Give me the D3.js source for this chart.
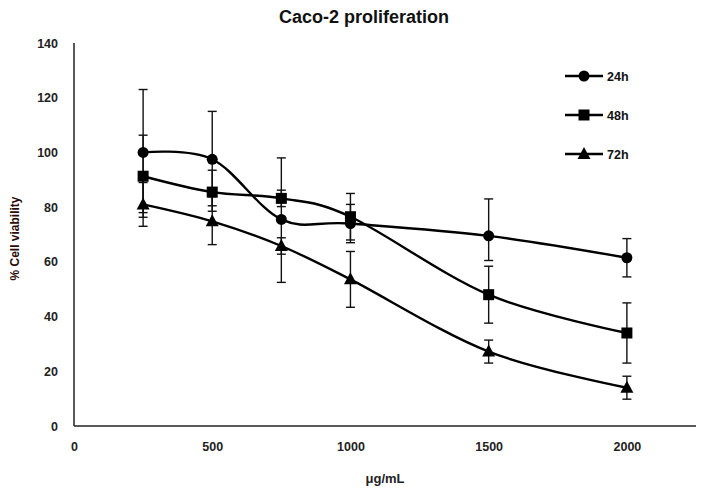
<!DOCTYPE html>
<html>
<head>
<meta charset="utf-8">
<script src="https://cdn.jsdelivr.net/npm/d3@7"></script>
<style>
  body { margin: 0; background: #fff; }
  svg { display: block; }
  text { font-family: "Liberation Sans", Arial, sans-serif; }
</style>
</head>
<body>
<svg id="chart" width="702" height="492"></svg>
<script>
const concentrations = [250, 500, 750, 1000, 1500, 2000];
const seriesNames = ["24h", "48h", "72h"];
const values24 = [100, 97.5, 75.5, 74, 69.5, 61.5];
const errUp24 = [23, 17.5, 22.5, 7, 13.5, 7];
const errDn24 = [22, 17, 23, 7, 9, 7];
const values48 = [91.3, 85.5, 83.2, 76.5, 48, 34];
const errUp48 = [15, 8, 3, 8.5, 10.4, 11];
const errDn48 = [15, 7, 3, 8.5, 10.4, 11];
const values72 = [81, 74.8, 65.8, 53.6, 27.2, 14];
const errUp72 = [8, 9, 3, 10.2, 4.2, 4.2];
const errDn72 = [8, 8.5, 3, 10.2, 4.2, 4.2];
const yTicks = [0, 20, 40, 60, 80, 100, 120, 140];
const xTicks = [0, 500, 1000, 1500, 2000];
const markerTypes = ["circle", "square", "triangle"];

const series = [
  {name: seriesNames[0], vals: values24, up: errUp24, dn: errDn24, marker: markerTypes[0]},
  {name: seriesNames[1], vals: values48, up: errUp48, dn: errDn48, marker: markerTypes[1]},
  {name: seriesNames[2], vals: values72, up: errUp72, dn: errDn72, marker: markerTypes[2]}
];

const svg = d3.select("#chart");
const mLeft = 74, mRight = 696, mTop = 43, mBottom = 426;
const x = d3.scaleLinear().domain([0, 2250]).range([mLeft, mRight]);
const y = d3.scaleLinear().domain([0, 140]).range([mBottom, mTop]);

// title
svg.append("text").attr("x", 364).attr("y", 23).attr("text-anchor", "middle")
  .attr("font-size", 18).attr("font-weight", "bold").attr("fill", "#111")
  .text("Caco-2 proliferation");

// axes
const yAxis = d3.axisLeft(y).tickValues(yTicks).tickFormat(d3.format("d")).tickSize(0).tickPadding(16);
const gy = svg.append("g").attr("transform", `translate(${mLeft},0)`).call(yAxis);
const xAxis = d3.axisBottom(x).tickValues(xTicks).tickFormat(d3.format("d")).tickSize(0).tickPadding(16);
const gx = svg.append("g").attr("transform", `translate(0,${mBottom})`).call(xAxis);
[gy, gx].forEach(g => {
  g.select(".domain").attr("stroke", "#222").attr("stroke-width", 1.5);
  g.selectAll("text").attr("font-size", 12.5).attr("font-weight", "bold").attr("fill", "#222")
    .style("font-family", "Liberation Sans, Arial, sans-serif");
});
gy.select(".domain").attr("d", `M0,${mBottom}V${mTop}`);
gx.select(".domain").attr("d", `M${mLeft},0H${mRight}`);

// axis labels
svg.append("text").attr("transform", `translate(19,${(mTop+mBottom)/2 + 4}) rotate(-90)`)
  .attr("text-anchor", "middle").attr("font-size", 12).attr("font-weight", "bold").attr("fill", "#2a0a0a")
  .text("% Cell viability");
svg.append("text").attr("x", 385).attr("y", 483).attr("text-anchor", "middle")
  .attr("font-size", 13).attr("font-weight", "bold").attr("fill", "#222")
  .text("μg/mL");

const line = d3.line().x((d, i) => x(concentrations[i])).y(d => y(d)).curve(d3.curveCatmullRom.alpha(0));

function drawMarker(g, type, cx, cy) {
  if (type === "circle") {
    g.append("circle").attr("cx", cx).attr("cy", cy).attr("r", 5.5).attr("fill", "#000");
  } else if (type === "square") {
    g.append("rect").attr("x", cx - 5.5).attr("y", cy - 5.5).attr("width", 11).attr("height", 11).attr("fill", "#000");
  } else {
    g.append("path").attr("d", `M${cx},${cy-7}L${cx+6.5},${cy+5}L${cx-6.5},${cy+5}Z`).attr("fill", "#000");
  }
}

const plot = svg.append("g");
series.forEach(s => {
  const eg = plot.append("g").attr("stroke", "#111").attr("stroke-width", 1.4);
  s.vals.forEach((v, i) => {
    const cx = x(concentrations[i]);
    const y1 = y(v + s.up[i]), y0 = y(v - s.dn[i]);
    eg.append("line").attr("x1", cx).attr("x2", cx).attr("y1", y1).attr("y2", y0);
    eg.append("line").attr("x1", cx - 4.5).attr("x2", cx + 4.5).attr("y1", y1).attr("y2", y1);
    eg.append("line").attr("x1", cx - 4.5).attr("x2", cx + 4.5).attr("y1", y0).attr("y2", y0);
  });
});
series.forEach(s => {
  plot.append("path").datum(s.vals).attr("d", line).attr("fill", "none")
    .attr("stroke", "#000").attr("stroke-width", 2.4);
  const mg = plot.append("g");
  s.vals.forEach((v, i) => drawMarker(mg, s.marker, x(concentrations[i]), y(v)));
});

// legend
const legendY = [76, 115, 154];
series.forEach((s, i) => {
  const g = svg.append("g");
  g.append("line").attr("x1", 565).attr("x2", 603).attr("y1", legendY[i]).attr("y2", legendY[i])
    .attr("stroke", "#000").attr("stroke-width", 2.4);
  drawMarker(g, s.marker, 584, legendY[i]);
  g.append("text").attr("x", 607).attr("y", legendY[i] + 4.5).attr("font-size", 12.5)
    .attr("font-weight", "bold").attr("fill", "#111").text(s.name);
});
</script>
</body>
</html>
